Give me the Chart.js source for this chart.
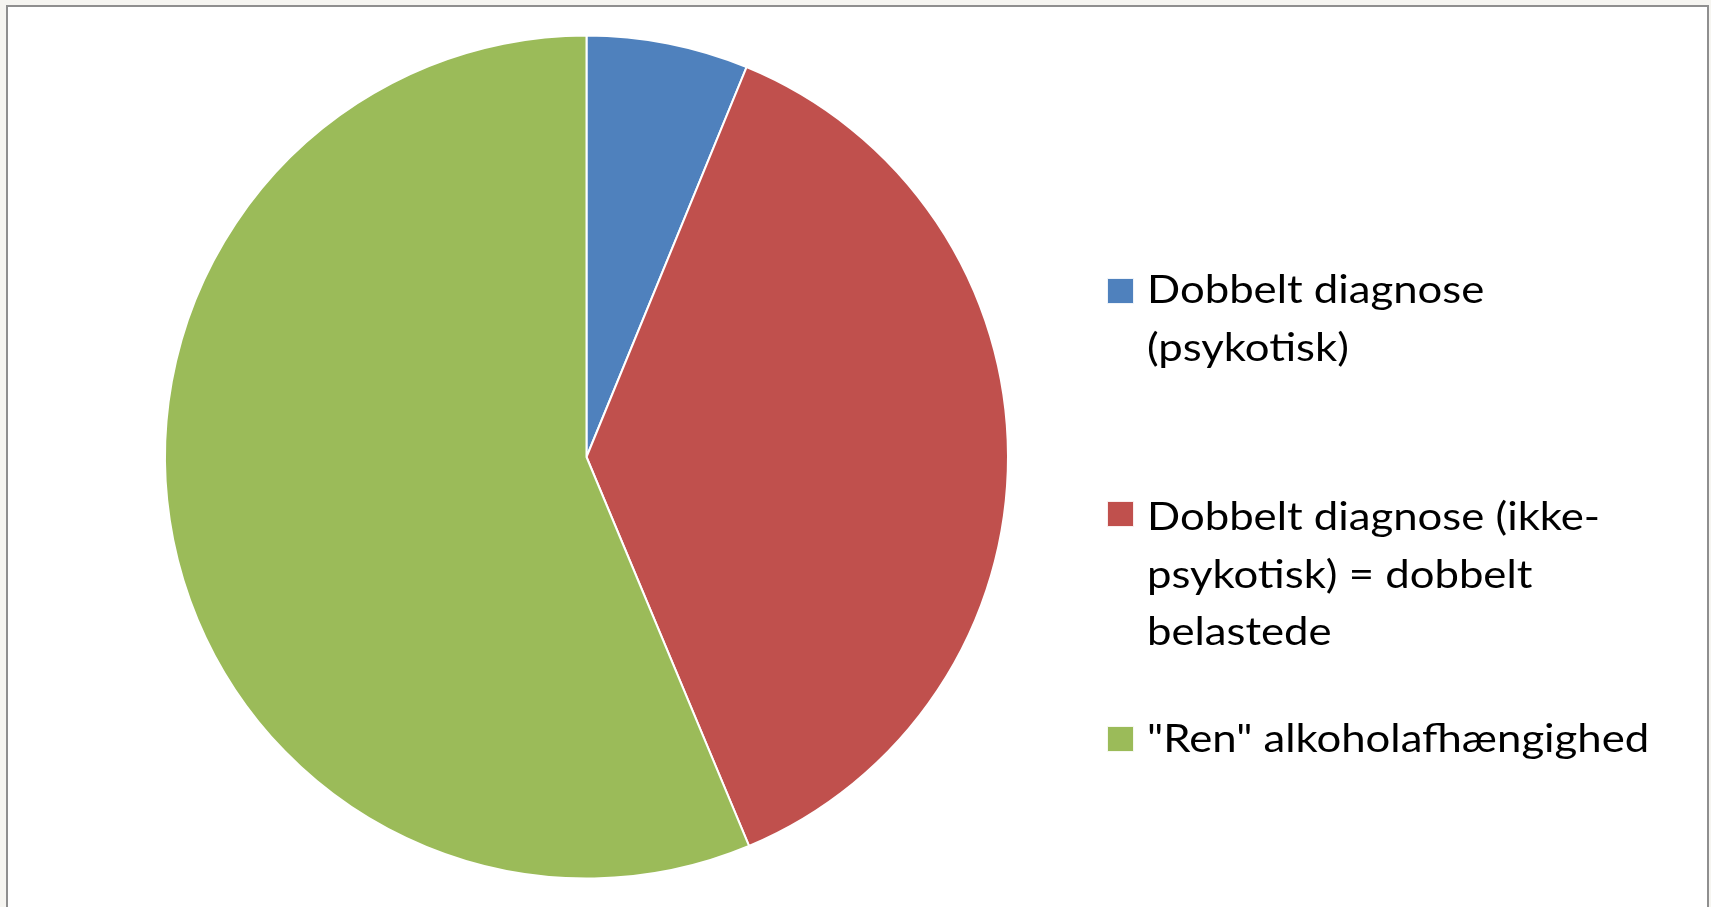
<!DOCTYPE html>
<html>
<head>
<meta charset="utf-8">
<script src="https://cdn.jsdelivr.net/npm/chart.js@4"></script>
<style>
    body { margin: 0; background: #f6f5f1; overflow: hidden; }
    #frame {
        position: absolute; left: 6px; top: 5px; width: 1699px; height: 920px;
        border: 2px solid #8f8f8f; background: #ffffff;
    }
    #wrap { position: absolute; left: 0; top: 0; width: 1711px; height: 907px; }
</style>
</head>
<body>
<div id="frame"></div>
<div id="wrap"><canvas id="pieChart"></canvas></div>
<script>

// share of patients (percent)
var categories = [
    ['Dobbelt diagnose', '(psykotisk)'],
    ['Dobbelt diagnose (ikke-', 'psykotisk) = dobbelt', 'belastede'],
    ['"Ren" alkoholafhængighed']
];
var values = [6.2, 37.5, 56.3];

const colors = ['#4F81BD', '#C0504D', '#9BBB59'];

// legend drawn to the right of the pie, Office style
const sideLegend = {
    id: 'sideLegend',
    afterDraw(chart) {
        const ctx = chart.ctx;
        const boxTops = [278, 501, 726];
        const baselines = [303, 530, 752];
        ctx.save();
        ctx.textBaseline = 'alphabetic';
        chart.data.labels.forEach((lines, i) => {
            const y = boxTops[i];
            ctx.fillStyle = colors[i];
            ctx.fillRect(1107, y, 27, 26);
            ctx.strokeStyle = 'rgba(255,255,255,0.9)';
            ctx.lineWidth = 1;
            ctx.strokeRect(1107.5, y + 0.5, 26, 25);
            ctx.fillStyle = '#000000';
            lines.forEach((line, j) => {
                ctx.save();
                ctx.translate(1147, baselines[i] + j * 57.5);
                ctx.scale(1.12, 1);   // Calibri is wider per cap height than Lato
                ctx.font = '39px Lato, "Open Sans", sans-serif';
                ctx.fillText(line, 0, 0);
                ctx.restore();
            });
        });
        ctx.restore();
    }
};

var ctx = document.getElementById('pieChart').getContext('2d');

var myChart = new Chart(ctx, {
    type: 'pie',
    data: {
        labels: categories,
        datasets: [{
            data: values,
            backgroundColor: colors,
            borderColor: '#ffffff',
            borderWidth: 2
        }]
    },
    options: {
        responsive: true,
        maintainAspectRatio: false,
        animation: false,
        layout: {
            padding: {
                left: 164,
                top: 34,
                right: 702,
                bottom: 27
            }
        },
        plugins: {
            legend: { display: false },
            title: { display: false },
            tooltip: { enabled: false }
        }
    },
    plugins: [sideLegend]
});
</script>
</body>
</html>
